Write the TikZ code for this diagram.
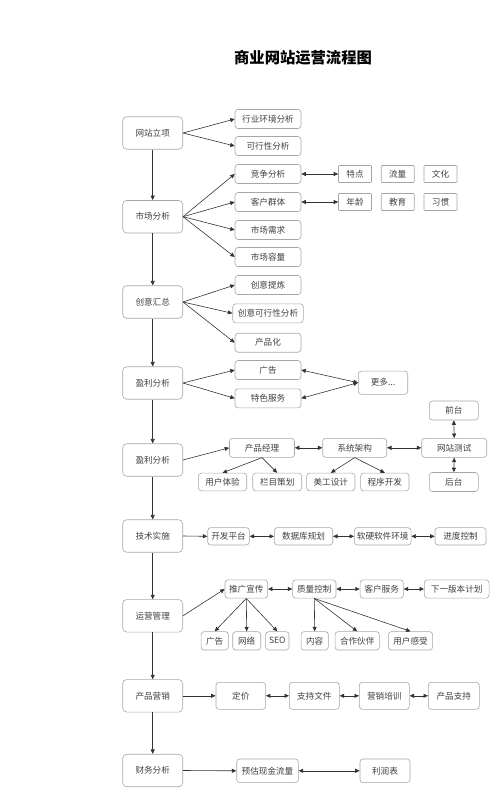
\documentclass[tikz,border=0pt]{standalone}
\usepackage{fontspec}
\newfontfamily\cjk{Noto Sans CJK SC}
\usetikzlibrary{arrows.meta}
\definecolor{bord}{HTML}{A6A6A6}
\definecolor{arrc}{HTML}{333333}
\definecolor{txt}{HTML}{404040}
\tikzset{
  box/.style={draw=bord, line width=0.6pt, rounded corners=3pt, inner sep=0pt, text=txt,
    font=\cjk\fontsize{8.6}{10}\selectfont},
  mainbox/.style={box, rounded corners=4pt, minimum width=60pt, minimum height=32.5pt},
  subbox/.style={box, minimum height=19pt},
  tagbox/.style={box, rounded corners=0.8pt, minimum width=33pt, minimum height=17pt},
  arr/.style={draw=arrc, line width=0.6pt, -{Triangle[length=4.5pt,width=4pt]}},
  darr/.style={draw=arrc, line width=0.6pt, {Triangle[length=4.5pt,width=4pt]}-{Triangle[length=4.5pt,width=4pt]}},
}
\begin{document}
\begin{tikzpicture}[x=1pt,y=-1pt]
\useasboundingbox (0,0) rectangle (500,792);
\node[font=\cjk\bfseries\fontsize{15.3}{17}\selectfont, text=black] (title) at (303,58) {商业网站运营流程图};

% main column
\node[mainbox] (n1) at (152.7,133) {网站立项};
\node[mainbox] (n2) at (152.7,216.7) {市场分析};
\node[mainbox] (n3) at (152.7,302) {创意汇总};
\node[mainbox] (n4) at (152.7,383) {盈利分析};
\node[mainbox] (n5) at (152.7,460) {盈利分析};
\node[mainbox] (n6) at (152.7,536) {技术实施};
\node[mainbox] (n7) at (152.7,615.8) {运营管理};
\node[mainbox] (n8) at (152.7,695.8) {产品营销};
\node[mainbox] (n9) at (152.7,770.5) {财务分析};

% row 1
\node[subbox, minimum width=66pt] (a1) at (268,119) {行业环境分析};
\node[subbox, minimum width=66pt] (a2) at (268,146) {可行性分析};
% row 2
\node[subbox, minimum width=66pt] (b1) at (268,174) {竞争分析};
\node[subbox, minimum width=66pt] (b2) at (268,202) {客户群体};
\node[subbox, minimum width=66pt] (b3) at (268,230) {市场需求};
\node[subbox, minimum width=66pt] (b4) at (268,257) {市场容量};
\node[tagbox] (t1) at (355,174) {特点};
\node[tagbox] (t2) at (397.7,174) {流量};
\node[tagbox] (t3) at (440.5,174) {文化};
\node[tagbox] (t4) at (355,202) {年龄};
\node[tagbox] (t5) at (397.7,202) {教育};
\node[tagbox] (t6) at (440.5,202) {习惯};
% row 3
\node[subbox, minimum width=66pt] (c1) at (268,285) {创意提炼};
\node[subbox, minimum width=70.6pt] (c2) at (268,313.3) {创意可行性分析};
\node[subbox, minimum width=66pt] (c3) at (268,342.7) {产品化};
% row 4
\node[subbox, minimum width=66pt] (d1) at (268,370) {广告};
\node[subbox, minimum width=66pt] (d2) at (268,398.3) {特色服务};
\node[subbox, minimum width=49.4pt, minimum height=23.3pt] (d3) at (383,382.7) {更多...};
% row 5
\node[subbox, minimum width=65pt] (e1) at (262,447.8) {产品经理};
\node[subbox, minimum width=64pt] (e2) at (354.7,447.8) {系统架构};
\node[subbox, minimum width=65pt] (e3) at (454.2,447.8) {网站测试};
\node[subbox, minimum width=49pt] (e4) at (453.8,410.5) {前台};
\node[subbox, minimum width=49pt] (e5) at (453.8,482) {后台};
\node[subbox, minimum width=48.4pt, minimum height=17.7pt] (e6) at (222.5,482) {用户体验};
\node[subbox, minimum width=49pt, minimum height=17.7pt] (e7) at (277.2,482) {栏目策划};
\node[subbox, minimum width=48.3pt, minimum height=17.7pt] (e8) at (330.8,482) {美工设计};
\node[subbox, minimum width=48.3pt, minimum height=17.7pt] (e9) at (384.8,482) {程序开发};
% row 6
\node[subbox, minimum width=41.6pt, minimum height=17.3pt] (f1) at (228.5,536.3) {开发平台};
\node[subbox, minimum width=58.4pt, minimum height=17.3pt] (f2) at (303.5,536.3) {数据库规划};
\node[subbox, minimum width=56.7pt, minimum height=17.3pt] (f3) at (382.7,536.3) {软硬软件环境};
\node[subbox, minimum width=51pt, minimum height=17.3pt] (f4) at (460.5,536.3) {进度控制};
% row 7
\node[subbox, minimum width=42.7pt, minimum height=18.3pt] (g1) at (246.3,589) {推广宣传};
\node[subbox, minimum width=43.3pt, minimum height=18.3pt] (g2) at (314.3,589) {质量控制};
\node[subbox, minimum width=43.3pt, minimum height=18.3pt] (g3) at (381.7,589) {客户服务};
\node[subbox, minimum width=64.7pt, minimum height=18.3pt] (g4) at (456.7,589) {下一版本计划};
\node[subbox, minimum width=27.3pt, minimum height=18.3pt] (g5) at (214.7,640.8) {广告};
\node[subbox, minimum width=28pt, minimum height=18.3pt] (g6) at (246.7,640.8) {网络};
\node[subbox, minimum width=23.3pt, minimum height=18.3pt] (g7) at (277.3,640.8) {SEO};
\node[subbox, minimum width=27.3pt, minimum height=18.3pt] (g8) at (314.7,640.8) {内容};
\node[subbox, minimum width=44.3pt, minimum height=18.3pt] (g9) at (357.2,640.8) {合作伙伴};
\node[subbox, minimum width=44.3pt, minimum height=18.3pt] (g10) at (410.5,640.8) {用户感受};
% row 8
\node[subbox, minimum width=49.7pt, minimum height=27pt] (h1) at (240.8,695.8) {定价};
\node[subbox, minimum width=50pt, minimum height=27pt] (h2) at (314.3,695.8) {支持文件};
\node[subbox, minimum width=50pt, minimum height=27pt] (h3) at (384.3,695.8) {营销培训};
\node[subbox, minimum width=51pt, minimum height=27pt] (h4) at (453.8,695.8) {产品支持};
% row 9
\node[subbox, minimum width=61.6pt, minimum height=23.7pt] (i1) at (267.5,770.8) {预估现金流量};
\node[subbox, minimum width=50pt, minimum height=23.7pt] (i2) at (385,770.8) {利润表};

% vertical flow
\foreach \a/\b in {n1/n2,n2/n3,n3/n4,n4/n5,n5/n6,n6/n7,n7/n8,n8/n9}
  \draw[arr] (\a.south) -- (\b.north);

% fans
\foreach \b in {a1,a2} \draw[arr] (n1.east) -- (\b.west);
\foreach \b in {b1,b2,b3,b4} \draw[arr] (n2.east) -- (\b.west);
\foreach \b in {c1,c2,c3} \draw[arr] (n3.east) -- (\b.west);
\foreach \b in {d1,d2} \draw[arr] (n4.east) -- (\b.west);
\draw[darr] (d1.east) -- (d3.west);
\draw[darr] (d2.east) -- (d3.west);
\draw[darr] (b1.east) -- (t1.west);
\draw[darr] (b2.east) -- (t4.west);

\draw[arr] (n5.east) -- (e1.west);
\draw[darr] (e1.east) -- (e2.west);
\draw[darr] (e2.east) -- (e3.west);
\draw[darr] (e4.south) -- (e3.north);
\draw[darr] (e3.south) -- (e5.north);
\foreach \b in {e6,e7} \draw[arr] (e1.south) -- (\b.north);
\foreach \b in {e8,e9} \draw[arr] (e2.south) -- (\b.north);

\draw[arr] (n6.east) -- (f1.west);
\draw[darr] (f1.east) -- (f2.west);
\draw[darr] (f2.east) -- (f3.west);
\draw[darr] (f3.east) -- (f4.west);

\draw[arr] (n7.east) -- (g1.west);
\draw[darr] (g1.east) -- (g2.west);
\draw[darr] (g2.east) -- (g3.west);
\draw[darr] (g3.east) -- (g4.west);
\foreach \b in {g5,g6,g7} \draw[arr] (g1.south) -- (\b.north);
\foreach \b in {g8,g9,g10} \draw[arr] (g2.south) -- (\b.north);

\draw[arr] (n8.east) -- (h1.west);
\draw[darr] (h1.east) -- (h2.west);
\draw[darr] (h2.east) -- (h3.west);
\draw[darr] (h3.east) -- (h4.west);

\draw[arr] (n9.east) -- (i1.west);
\draw[darr] (i1.east) -- (i2.west);
\end{tikzpicture}
\end{document}
